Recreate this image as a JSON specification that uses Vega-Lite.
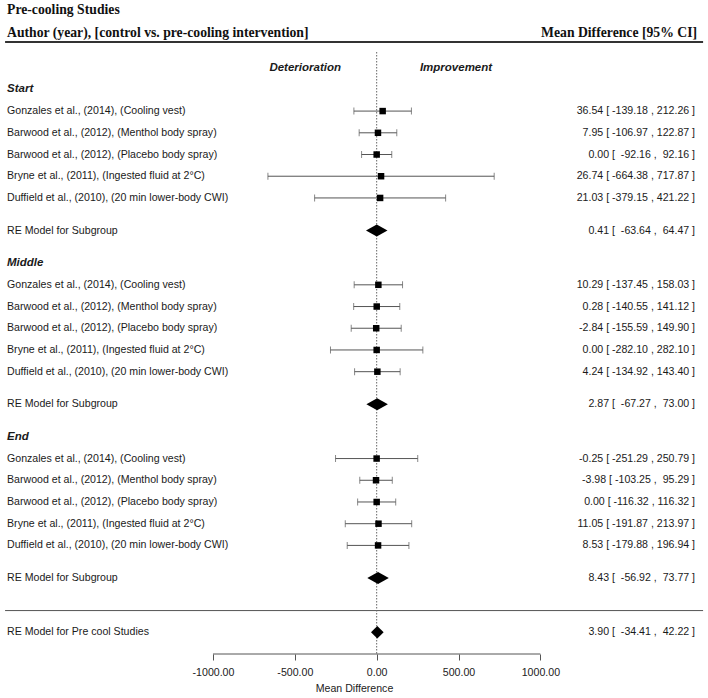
{
  "$schema": "https://vega.github.io/schema/vega-lite/v6.json",
  "width": 708,
  "height": 654,
  "autosize": {"type": "none"},
  "padding": {"left": 0, "top": 0, "right": 0, "bottom": 44},
  "background": "white",
  "config": {"view": {"stroke": null}},
  "resolve": {"axis": {"x": "independent", "y": "independent"}},
  "data": {"values": [
    {"kind": "group", "label": "Start", "row": -1},
    {"kind": "study", "label": "Gonzales et al., (2014), (Cooling vest)", "est": 36.54, "lo": -139.18, "hi": 212.26, "ci": "36.54 [ -139.18 , 212.26 ]", "row": 0},
    {"kind": "study", "label": "Barwood et al., (2012), (Menthol body spray)", "est": 7.95, "lo": -106.97, "hi": 122.87, "ci": "7.95 [ -106.97 , 122.87 ]", "row": 1},
    {"kind": "study", "label": "Barwood et al., (2012), (Placebo body spray)", "est": 0.0, "lo": -92.16, "hi": 92.16, "ci": "0.00 [ \u00a0-92.16 , \u00a092.16 ]", "row": 2},
    {"kind": "study", "label": "Bryne et al., (2011), (Ingested fluid at 2°C)", "est": 26.74, "lo": -664.38, "hi": 717.87, "ci": "26.74 [ -664.38 , 717.87 ]", "row": 3},
    {"kind": "study", "label": "Duffield et al., (2010), (20 min lower-body CWI)", "est": 21.03, "lo": -379.15, "hi": 421.22, "ci": "21.03 [ -379.15 , 421.22 ]", "row": 4},
    {"kind": "re", "label": "RE Model for Subgroup", "est": 0.41, "lo": -63.64, "hi": 64.47, "ci": "0.41 [ \u00a0-63.64 , \u00a064.47 ]", "row": 5.5},
    {"kind": "group", "label": "Middle", "row": 7},
    {"kind": "study", "label": "Gonzales et al., (2014), (Cooling vest)", "est": 10.29, "lo": -137.45, "hi": 158.03, "ci": "10.29 [ -137.45 , 158.03 ]", "row": 8},
    {"kind": "study", "label": "Barwood et al., (2012), (Menthol body spray)", "est": 0.28, "lo": -140.55, "hi": 141.12, "ci": "0.28 [ -140.55 , 141.12 ]", "row": 9},
    {"kind": "study", "label": "Barwood et al., (2012), (Placebo body spray)", "est": -2.84, "lo": -155.59, "hi": 149.9, "ci": "-2.84 [ -155.59 , 149.90 ]", "row": 10},
    {"kind": "study", "label": "Bryne et al., (2011), (Ingested fluid at 2°C)", "est": 0.0, "lo": -282.1, "hi": 282.1, "ci": "0.00 [ -282.10 , 282.10 ]", "row": 11},
    {"kind": "study", "label": "Duffield et al., (2010), (20 min lower-body CWI)", "est": 4.24, "lo": -134.92, "hi": 143.4, "ci": "4.24 [ -134.92 , 143.40 ]", "row": 12},
    {"kind": "re", "label": "RE Model for Subgroup", "est": 2.87, "lo": -67.27, "hi": 73.0, "ci": "2.87 [ \u00a0-67.27 , \u00a073.00 ]", "row": 13.5},
    {"kind": "group", "label": "End", "row": 15},
    {"kind": "study", "label": "Gonzales et al., (2014), (Cooling vest)", "est": -0.25, "lo": -251.29, "hi": 250.79, "ci": "-0.25 [ -251.29 , 250.79 ]", "row": 16},
    {"kind": "study", "label": "Barwood et al., (2012), (Menthol body spray)", "est": -3.98, "lo": -103.25, "hi": 95.29, "ci": "-3.98 [ -103.25 , \u00a095.29 ]", "row": 17},
    {"kind": "study", "label": "Barwood et al., (2012), (Placebo body spray)", "est": 0.0, "lo": -116.32, "hi": 116.32, "ci": "0.00 [ -116.32 , 116.32 ]", "row": 18},
    {"kind": "study", "label": "Bryne et al., (2011), (Ingested fluid at 2°C)", "est": 11.05, "lo": -191.87, "hi": 213.97, "ci": "11.05 [ -191.87 , 213.97 ]", "row": 19},
    {"kind": "study", "label": "Duffield et al., (2010), (20 min lower-body CWI)", "est": 8.53, "lo": -179.88, "hi": 196.94, "ci": "8.53 [ -179.88 , 196.94 ]", "row": 20},
    {"kind": "re", "label": "RE Model for Subgroup", "est": 8.43, "lo": -56.92, "hi": 73.77, "ci": "8.43 [ \u00a0-56.92 , \u00a073.77 ]", "row": 21.5},
    {"kind": "overall", "label": "RE Model for Pre cool Studies", "est": 3.9, "lo": -34.41, "hi": 42.22, "ci": "3.90 [ \u00a0-34.41 , \u00a042.22 ]", "row": 24}
  ]},
  "layer": [
    {
      "data": {"values": [{}]},
      "mark": {"type": "rule", "color": "#333333", "strokeWidth": 2},
      "encoding": {
        "x": {"datum": -2270, "type": "quantitative", "scale": {"domain": [-2301, 2024], "nice": false, "zero": false}, "axis": null},
        "x2": {"datum": 1994},
        "y": {"datum": -3.18, "type": "quantitative", "scale": {"domain": [-5.115, 25], "reverse": true, "nice": false, "zero": false}, "axis": null}
      }
    },
    {
      "data": {"values": [{}]},
      "mark": {"type": "rule", "color": "#555555", "strokeWidth": 1},
      "encoding": {
        "x": {"datum": -2270, "type": "quantitative", "axis": null},
        "x2": {"datum": 1994},
        "y": {"datum": 23, "type": "quantitative", "axis": null}
      }
    },
    {
      "data": {"values": [{}]},
      "mark": {"type": "rule", "color": "#666666", "strokeWidth": 1, "strokeDash": [1.5, 1.5]},
      "encoding": {
        "x": {"datum": 0, "type": "quantitative", "axis": null},
        "y": {"datum": -2.72, "type": "quantitative", "axis": null},
        "y2": {"datum": 25}
      }
    },
    {
      "data": {"values": [{}]},
      "mark": {"type": "rule", "color": "#555555", "strokeWidth": 1},
      "encoding": {
        "x": {"datum": -1000, "type": "quantitative", "axis": null},
        "x2": {"datum": 1000},
        "y": {"datum": 25, "type": "quantitative", "axis": null}
      }
    },
    {
      "transform": [{"filter": "datum.kind === 'study'"}],
      "mark": {"type": "rule", "color": "#555555", "strokeWidth": 1},
      "encoding": {
        "x": {
          "field": "lo", "type": "quantitative",
          "scale": {"domain": [-2301, 2024], "nice": false, "zero": false},
          "axis": {
            "values": [-1000, -500, 0, 500, 1000],
            "labelExpr": "(datum.value < 0 ? '-' : '') + format(abs(datum.value), '.2f')",
            "domain": false, "grid": false,
            "tickSize": 6, "tickColor": "#555555", "tickWidth": 1,
            "labelFont": "Liberation Sans", "labelFontSize": 10.6, "labelColor": "#222222", "labelPadding": 7,
            "title": "Mean Difference", "titleFont": "Liberation Sans", "titleFontSize": 10.6,
            "titleFontWeight": "normal", "titleColor": "#222222", "titlePadding": 6
          }
        },
        "x2": {"field": "hi"},
        "y": {"field": "row", "type": "quantitative", "scale": {"domain": [-5.115, 25], "reverse": true, "nice": false, "zero": false}, "axis": null}
      }
    },
    {
      "transform": [{"filter": "datum.kind === 'study'"}],
      "mark": {"type": "tick", "orient": "vertical", "color": "#555555", "size": 7, "thickness": 1},
      "encoding": {
        "x": {"field": "lo", "type": "quantitative", "axis": null},
        "y": {"field": "row", "type": "quantitative", "axis": null}
      }
    },
    {
      "transform": [{"filter": "datum.kind === 'study'"}],
      "mark": {"type": "tick", "orient": "vertical", "color": "#555555", "size": 7, "thickness": 1},
      "encoding": {
        "x": {"field": "hi", "type": "quantitative", "axis": null},
        "y": {"field": "row", "type": "quantitative", "axis": null}
      }
    },
    {
      "transform": [{"filter": "datum.kind === 'study'"}],
      "mark": {"type": "point", "shape": "square", "filled": true, "color": "#000000", "opacity": 1, "size": 42},
      "encoding": {
        "x": {"field": "est", "type": "quantitative", "axis": null},
        "y": {"field": "row", "type": "quantitative", "axis": null}
      }
    },
    {
      "transform": [{"filter": "datum.kind === 're'"}],
      "mark": {"type": "point", "shape": "M-1,0L0,-0.56L1,0L0,0.56Z", "filled": true, "color": "#000000", "opacity": 1, "size": 462},
      "encoding": {
        "x": {"field": "est", "type": "quantitative", "axis": null},
        "y": {"field": "row", "type": "quantitative", "axis": null}
      }
    },
    {
      "transform": [{"filter": "datum.kind === 'overall'"}],
      "mark": {"type": "point", "shape": "M-1,0L0,-0.98L1,0L0,0.98Z", "filled": true, "color": "#000000", "opacity": 1, "size": 160},
      "encoding": {
        "x": {"field": "est", "type": "quantitative", "axis": null},
        "y": {"field": "row", "type": "quantitative", "axis": null}
      }
    },
    {
      "transform": [{"filter": "datum.kind !== 'group'"}],
      "mark": {"type": "text", "align": "left", "baseline": "middle", "font": "Liberation Sans", "fontSize": 10.6, "color": "#1a1a1a"},
      "encoding": {
        "x": {"datum": -2258, "type": "quantitative", "axis": null},
        "y": {"field": "row", "type": "quantitative", "axis": null},
        "text": {"field": "label"}
      }
    },
    {
      "transform": [{"filter": "datum.kind === 'group'"}],
      "mark": {"type": "text", "align": "left", "baseline": "middle", "font": "Liberation Sans", "fontSize": 11.5, "fontWeight": "bold", "fontStyle": "italic", "color": "#1a1a1a"},
      "encoding": {
        "x": {"datum": -2258, "type": "quantitative", "axis": null},
        "y": {"field": "row", "type": "quantitative", "axis": null},
        "text": {"field": "label"}
      }
    },
    {
      "transform": [{"filter": "datum.kind !== 'group'"}],
      "mark": {"type": "text", "align": "right", "baseline": "middle", "font": "Liberation Sans", "fontSize": 10.6, "color": "#1a1a1a"},
      "encoding": {
        "x": {"datum": 1945, "type": "quantitative", "axis": null},
        "y": {"field": "row", "type": "quantitative", "axis": null},
        "text": {"field": "ci"}
      }
    },
    {
      "data": {"values": [{}]},
      "mark": {"type": "text", "align": "left", "baseline": "middle", "font": "Liberation Serif", "fontSize": 13.7, "fontWeight": "bold", "color": "#111111"},
      "encoding": {
        "x": {"datum": -2258, "type": "quantitative", "axis": null},
        "y": {"datum": -4.65, "type": "quantitative", "axis": null},
        "text": {"value": "Pre-cooling Studies"}
      }
    },
    {
      "data": {"values": [{}]},
      "mark": {"type": "text", "align": "left", "baseline": "middle", "font": "Liberation Serif", "fontSize": 13.7, "fontWeight": "bold", "color": "#111111"},
      "encoding": {
        "x": {"datum": -2258, "type": "quantitative", "axis": null},
        "y": {"datum": -3.6, "type": "quantitative", "axis": null},
        "text": {"value": "Author (year), [control vs. pre-cooling intervention]"}
      }
    },
    {
      "data": {"values": [{}]},
      "mark": {"type": "text", "align": "right", "baseline": "middle", "font": "Liberation Serif", "fontSize": 13.7, "fontWeight": "bold", "color": "#111111"},
      "encoding": {
        "x": {"datum": 1957, "type": "quantitative", "axis": null},
        "y": {"datum": -3.6, "type": "quantitative", "axis": null},
        "text": {"value": "Mean Difference [95% CI]"}
      }
    },
    {
      "data": {"values": [{}]},
      "mark": {"type": "text", "align": "right", "baseline": "middle", "font": "Liberation Sans", "fontSize": 11.5, "fontWeight": "bold", "fontStyle": "italic", "color": "#1a1a1a"},
      "encoding": {
        "x": {"datum": -218, "type": "quantitative", "axis": null},
        "y": {"datum": -2, "type": "quantitative", "axis": null},
        "text": {"value": "Deterioration"}
      }
    },
    {
      "data": {"values": [{}]},
      "mark": {"type": "text", "align": "left", "baseline": "middle", "font": "Liberation Sans", "fontSize": 11.5, "fontWeight": "bold", "fontStyle": "italic", "color": "#1a1a1a"},
      "encoding": {
        "x": {"datum": 264, "type": "quantitative", "axis": null},
        "y": {"datum": -2, "type": "quantitative", "axis": null},
        "text": {"value": "Improvement"}
      }
    }
  ]
}
